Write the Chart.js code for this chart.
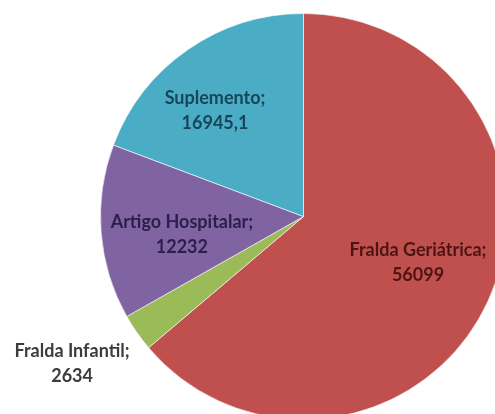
<!DOCTYPE html>
<html>
<head>
<meta charset="utf-8">
<script src="https://cdn.jsdelivr.net/npm/chart.js@4.4.0/dist/chart.umd.min.js"></script>
<style>
  html, body { margin: 0; padding: 0; background: #fff; overflow: hidden; width: 495px; height: 414px; }
  #wrap { position: absolute; left: 0; top: 0; width: 520px; height: 430px; }
</style>
</head>
<body>
<div id="wrap"><canvas id="chart" width="520" height="430"></canvas></div>
<script>
// data (clockwise from 12 o'clock)
const categories = ["Fralda Geriátrica", "Fralda Infantil", "Artigo Hospitalar", "Suplemento"];
const values = [56099, 2634, 12232, 16945.1];
const valueText = ["56099", "2634", "12232", "16945,1"];

const sliceColors = ["#C0504D", "#9BBB59", "#8064A2", "#4BACC6"];
const labelColors = ["#4c1514", "#3c3c3c", "#2c1e4c", "#184659"];
// label centre relative to the pie centre, in units of the radius
const labelOffsets = [[0.564, 0.229], [-1.14, 0.727], [-0.599, 0.091], [-0.436, -0.522]];

// draws the "name; value" labels like Excel does
const sliceLabels = {
  id: "sliceLabels",
  afterDatasetsDraw(chart) {
    const ctx = chart.ctx;
    const arcs = chart.getDatasetMeta(0).data;
    ctx.save();
    ctx.font = "bold 18px Lato, 'Open Sans', sans-serif";
    ctx.textAlign = "center";
    ctx.textBaseline = "middle";
    arcs.forEach((arc, i) => {
      const r = arc.outerRadius;
      const x = arc.x + labelOffsets[i][0] * r;
      const y = arc.y + labelOffsets[i][1] * r;
      ctx.fillStyle = labelColors[i];
      ctx.fillText(categories[i] + ";", x, y - 12.5);
      ctx.fillText(valueText[i], x, y + 12.5);
    });
    ctx.restore();
  }
};

new Chart(document.getElementById("chart"), {
  type: "pie",
  data: {
    labels: categories,
    datasets: [{
      data: values,
      backgroundColor: sliceColors,
      borderColor: "rgba(255,255,255,0.6)",
      borderWidth: 1
    }]
  },
  options: {
    responsive: false,
    animation: false,
    layout: { padding: { left: 100, top: 13, right: 13, bottom: 10 } },
    plugins: {
      legend: { display: false },
      tooltip: { enabled: false }
    }
  },
  plugins: [sliceLabels]
});
</script>
</body>
</html>
